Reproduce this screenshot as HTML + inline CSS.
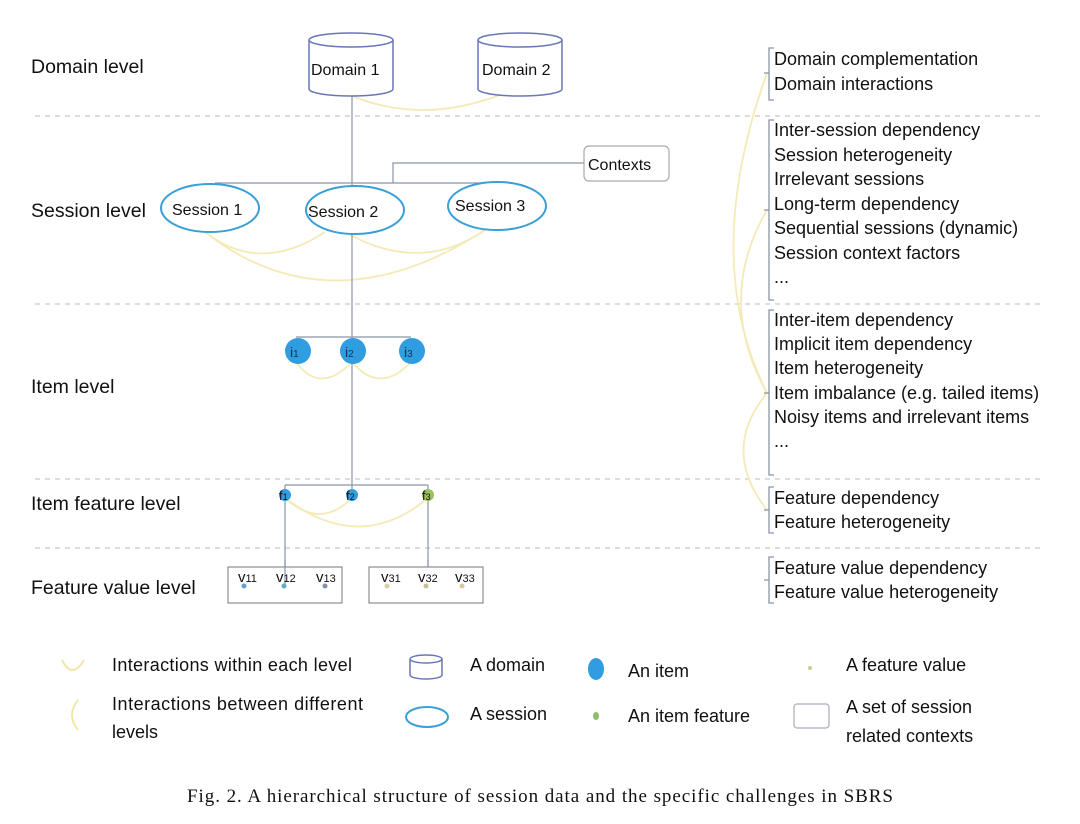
<!DOCTYPE html>
<html><head><meta charset="utf-8"><style>
body{margin:0;background:#fff}
svg{display:block}
text{font-family:"Liberation Sans",sans-serif;fill:#111}
</style></head><body>
<svg width="1080" height="824" viewBox="0 0 1080 824" xmlns="http://www.w3.org/2000/svg">
<g stroke="#c8c8c8" stroke-dasharray="5,5" stroke-width="1.2">
<line x1="35" y1="116" x2="1045" y2="116"/>
<line x1="35" y1="304" x2="1045" y2="304"/>
<line x1="35" y1="479" x2="1045" y2="479"/>
<line x1="35" y1="548" x2="1045" y2="548"/>
</g>
<g font-size="19.5">
<text x="31" y="73">Domain level</text>
<text x="31" y="217">Session level</text>
<text x="31" y="393">Item level</text>
<text x="31" y="510">Item feature level</text>
<text x="31" y="594">Feature value level</text>
</g>
<g fill="none" stroke="#f4eab8" stroke-width="1.8">
<path d="M350 95 Q420 125 500 95"/>
<path d="M205 232 Q260 275 325 232"/>
<path d="M345 232 Q420 275 485 230"/>
<path d="M205 232 Q330 330 485 230"/>
<path d="M296 362 Q320 395 352 362"/>
<path d="M352 362 Q380 395 411 362"/>
<path d="M285 498 Q320 530 352 498"/>
<path d="M285 498 Q360 555 428 498"/>
<path d="M245 588 Q265 610 285 588"/>
<path d="M767 73 Q700 260 767 393"/>
<path d="M767 210 Q715 300 767 393"/>
<path d="M767 393 Q720 450 767 510"/>
</g>
<g stroke="#8a95a8" stroke-width="1.2" fill="none">
<line x1="352" y1="95" x2="352" y2="493"/>
<line x1="215" y1="183" x2="490" y2="183"/>
<polyline points="393,183 393,163 584,163"/>
<line x1="296" y1="337" x2="411" y2="337"/>
<line x1="285" y1="485" x2="428" y2="485"/>
<line x1="285" y1="485" x2="285" y2="493"/>
<line x1="428" y1="485" x2="428" y2="493"/>
<line x1="285" y1="500" x2="285" y2="585"/>
<line x1="428" y1="500" x2="428" y2="585"/>
</g>
<g fill="#fff" stroke="#6a76b5" stroke-width="1.5">
<path d="M309 40 L309 89 A42 7 0 0 0 393 89 L393 40"/>
<ellipse cx="351" cy="40" rx="42" ry="7"/>
<path d="M478 40 L478 89 A42 7 0 0 0 562 89 L562 40"/>
<ellipse cx="520" cy="40" rx="42" ry="7"/>
</g>
<text x="311" y="75" font-size="16">Domain 1</text>
<text x="482" y="75" font-size="16">Domain 2</text>
<rect x="584" y="146" width="85" height="35" rx="5" fill="#fff" stroke="#aaa" stroke-width="1.2"/>
<text x="588" y="170" font-size="16">Contexts</text>
<g fill="#fff" stroke="#3a9fd6" stroke-width="2">
<ellipse cx="210" cy="208" rx="49" ry="24"/>
<ellipse cx="355" cy="210" rx="49" ry="24"/>
<ellipse cx="497" cy="206" rx="49" ry="24"/>
</g>
<text x="172" y="215" font-size="16">Session 1</text>
<text x="308" y="217" font-size="16">Session 2</text>
<text x="455" y="211" font-size="16">Session 3</text>
<g fill="#2f9de0">
<circle cx="298" cy="351" r="13"/>
<circle cx="353" cy="351" r="13"/>
<circle cx="412" cy="351" r="13"/>
</g>
<g font-size="14"><text x="290" y="357" style="fill:#1a3050">i<tspan font-size="10">1</tspan></text>
<text x="345" y="357" style="fill:#1a3050">i<tspan font-size="10">2</tspan></text>
<text x="404" y="357" style="fill:#1a3050">i<tspan font-size="10">3</tspan></text></g>
<circle cx="285" cy="495" r="6" fill="#2f9de0"/>
<circle cx="352" cy="495" r="6" fill="#2f9de0"/>
<circle cx="428" cy="495" r="6" fill="#9bc25a"/>
<g font-size="13"><text x="279" y="500">f<tspan font-size="9">1</tspan></text><text x="346" y="500">f<tspan font-size="9">2</tspan></text><text x="422" y="500">f<tspan font-size="9">3</tspan></text></g>
<rect x="228" y="567" width="114" height="36" fill="#fff" stroke="#777" stroke-width="1"/>
<rect x="369" y="567" width="114" height="36" fill="#fff" stroke="#777" stroke-width="1"/>
<line x1="285" y1="560" x2="285" y2="585" stroke="#8a95a8" stroke-width="1.2"/>
<line x1="428" y1="560" x2="428" y2="567" stroke="#8a95a8" stroke-width="1.2"/>
<g font-size="15"><text x="238" y="582">v<tspan font-size="11">11</tspan></text><text x="276" y="582">v<tspan font-size="11">12</tspan></text><text x="316" y="582">v<tspan font-size="11">13</tspan></text>
<text x="381" y="582">v<tspan font-size="11">31</tspan></text><text x="418" y="582">v<tspan font-size="11">32</tspan></text><text x="455" y="582">v<tspan font-size="11">33</tspan></text></g>
<g><circle cx="244" cy="586" r="2.5" fill="#5aa0d0"/><circle cx="284" cy="586" r="2.5" fill="#5ab0c0"/><circle cx="325" cy="586" r="2.5" fill="#8090a8"/>
<circle cx="387" cy="586" r="2.5" fill="#d8d0a8"/><circle cx="426" cy="586" r="2.5" fill="#c8c090"/><circle cx="462" cy="586" r="2.5" fill="#d8c898"/></g>
<g fill="none" stroke="#8a95a8" stroke-width="1.3">
<path d="M774 48 H769 V100 H774 M769 73 H764"/>
<path d="M774 120 H769 V300 H774 M769 210 H764"/>
<path d="M774 310 H769 V475 H774 M769 393 H764"/>
<path d="M774 487 H769 V533 H774 M769 510 H764"/>
<path d="M774 557 H769 V603 H774 M769 580 H764"/>
</g>
<g font-size="18">
<text x="774" y="65">Domain complementation</text>
<text x="774" y="90">Domain interactions</text>
<text x="774" y="136">Inter-session dependency</text>
<text x="774" y="161">Session heterogeneity</text>
<text x="774" y="185">Irrelevant sessions</text>
<text x="774" y="210">Long-term dependency</text>
<text x="774" y="234">Sequential sessions (dynamic)</text>
<text x="774" y="259">Session context factors</text>
<text x="774" y="283">...</text>
<text x="774" y="326">Inter-item dependency</text>
<text x="774" y="350">Implicit item dependency</text>
<text x="774" y="374">Item heterogeneity</text>
<text x="774" y="399">Item imbalance (e.g. tailed items)</text>
<text x="774" y="423">Noisy items and irrelevant items</text>
<text x="774" y="447">...</text>
<text x="774" y="504">Feature dependency</text>
<text x="774" y="528">Feature heterogeneity</text>
<text x="774" y="574">Feature value dependency</text>
<text x="774" y="598">Feature value heterogeneity</text>
</g>
<g fill="none" stroke="#f2e6a8" stroke-width="2"><path d="M62 660 Q72 680 84 660"/><path d="M78 700 Q66 715 78 730"/></g>
<g font-size="18">
<text x="112" y="671" textLength="240">Interactions within each level</text>
<text x="112" y="710" textLength="251">Interactions between different</text>
<text x="112" y="738">levels</text>
<text x="470" y="671">A domain</text>
<text x="470" y="720">A session</text>
<text x="628" y="677">An item</text>
<text x="628" y="722">An item feature</text>
<text x="846" y="671">A feature value</text>
<text x="846" y="713">A set of session</text>
<text x="846" y="742">related contexts</text>
</g>
<g fill="#fff" stroke="#6a76b5" stroke-width="1.5">
<path d="M410 659 L410 675 A16 4 0 0 0 442 675 L442 659"/><ellipse cx="426" cy="659" rx="16" ry="4"/>
</g>
<ellipse cx="427" cy="717" rx="21" ry="10" fill="none" stroke="#3a9fd6" stroke-width="2"/>
<ellipse cx="596" cy="669" rx="8" ry="11" fill="#2f9de0"/>
<ellipse cx="596" cy="716" rx="3" ry="4" fill="#8fbf6a"/>
<circle cx="810" cy="668" r="2" fill="#c8d090"/>
<rect x="794" y="704" width="35" height="24" rx="3" fill="#fff" stroke="#aab" stroke-width="1.2"/>
<text x="187" y="802" font-size="19" textLength="706" style="font-family:'Liberation Serif',serif">Fig. 2.  A hierarchical structure of session data and the specific challenges in SBRS</text>
</svg>
</body></html>
